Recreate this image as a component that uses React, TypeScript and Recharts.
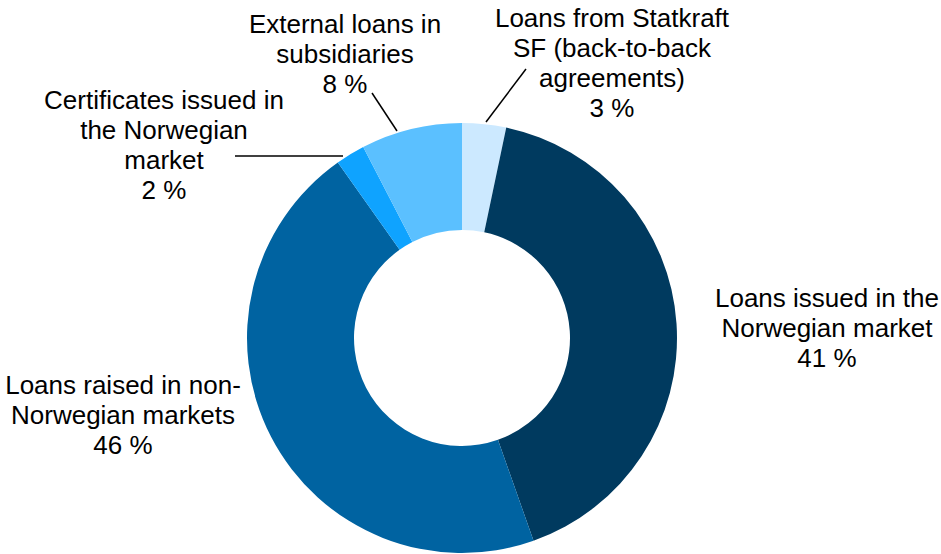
import React from 'react';
import { PieChart, Pie, Cell } from 'recharts';

// Funding sources, clockwise from 12 o'clock
const categories = [
    'Loans from Statkraft SF (back-to-back agreements)',
    'Loans issued in the Norwegian market',
    'Loans raised in non-Norwegian markets',
    'Certificates issued in the Norwegian market',
    'External loans in subsidiaries',
];

// share of total (%)
const shares = [3.3, 41.3, 45.6, 2.2, 7.6];

// how each category name is wrapped in its label
const labelLines = [
    ['Loans from Statkraft', 'SF (back-to-back', 'agreements)'],
    ['Loans issued in the', 'Norwegian market'],
    ['Loans raised in non-', 'Norwegian markets'],
    ['Certificates issued in', 'the Norwegian', 'market'],
    ['External loans in', 'subsidiaries'],
];

const COLORS = ['#CCE9FF', '#003A5F', '#0063A1', '#0FA3FF', '#5BC0FF'];

// label placement relative to the pie centre; lead = leader line [from, to]
const LABEL_LAYOUT: { dx: number; dy: number; lead?: [number, number, number, number] }[] = [
    { dx: 150, dy: -320, lead: [64, -269, 24, -216] },
    { dx: 365, dy: -40 },
    { dx: -339, dy: 47 },
    { dx: -298, dy: -238, lead: [-227, -182, -119, -182] },
    { dx: -117, dy: -314, lead: [-90, -245, -65, -207] },
];

const LINE_HEIGHT = 30;

const chartData = categories.map((name, i) => ({ name, value: shares[i] }));

const renderLabel = (props: any) => {
    const { cx, cy, index, percent } = props;
    const layout = LABEL_LAYOUT[index];
    const lines = [...labelLines[index], `${Math.round(percent * 100)} %`];
    const tx = cx + layout.dx;
    const ty = cy + layout.dy;

    return (
        <g key={`label-${index}`}>
            {layout.lead && (
                <line
                    x1={cx + layout.lead[0]}
                    y1={cy + layout.lead[1]}
                    x2={cx + layout.lead[2]}
                    y2={cy + layout.lead[3]}
                    stroke="#000"
                    strokeWidth={1.5}
                />
            )}
            {lines.map((line, i) => (
                <text
                    key={i}
                    x={tx}
                    y={ty + i * LINE_HEIGHT}
                    textAnchor="middle"
                    dominantBaseline="central"
                    fill="#000"
                    fontSize={26}
                    fontFamily="'Liberation Sans', Arial, sans-serif"
                >
                    {line}
                </text>
            ))}
        </g>
    );
};

export default function App() {
    return (
        <div style={{ position: 'absolute', left: 0, top: 0, background: '#fff' }}>
            <PieChart width={941} height={554} margin={{ top: 0, right: 0, bottom: 0, left: 0 }}>
                <Pie
                    data={chartData}
                    dataKey="value"
                    nameKey="name"
                    cx={462}
                    cy={338}
                    innerRadius={108}
                    outerRadius={215}
                    startAngle={90}
                    endAngle={-270}
                    stroke="none"
                    labelLine={false}
                    label={renderLabel}
                    isAnimationActive={false}
                >
                    {chartData.map((entry, index) => (
                        <Cell key={`cell-${index}`} fill={COLORS[index]} />
                    ))}
                </Pie>
            </PieChart>
        </div>
    );
}
